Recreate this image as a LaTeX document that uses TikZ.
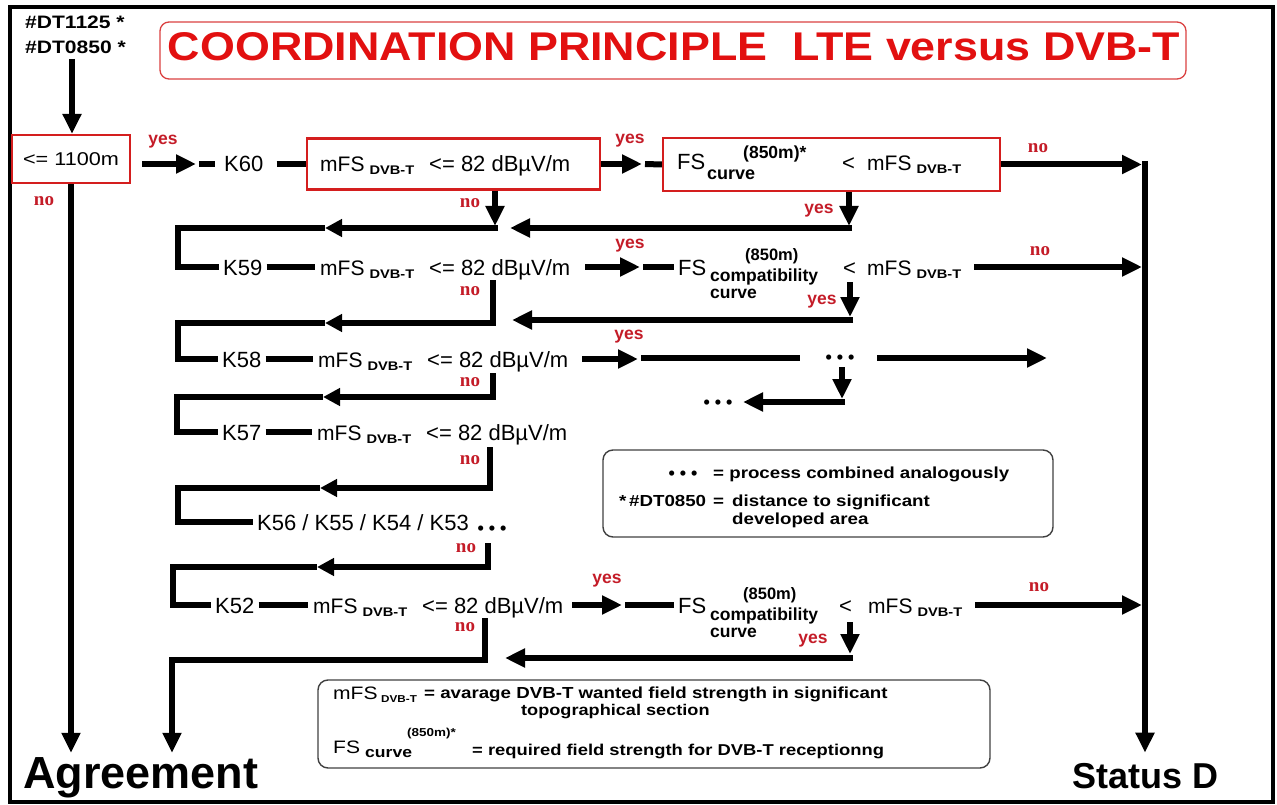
\documentclass[tikz,border=0pt]{standalone}
\usepackage{fontspec}
\usepackage{graphicx}
\setmainfont{Liberation Sans}
\newfontfamily\wfont{Liberation Sans}[FakeStretch=1.17]
\newfontfamily\serifbf{Liberation Serif}
\usetikzlibrary{arrows.meta}
\definecolor{tred}{RGB}{226,16,16}
\definecolor{bred}{RGB}{212,30,30}
\definecolor{lred}{RGB}{196,28,40}
\newcommand\fsz[1]{\fontsize{#1}{#1}\selectfont}
\newcommand\mfsDVB{{\fsz{21}mFS}\hspace{5pt}{\wfont\bfseries\fsz{12.5}\raisebox{-3pt}{DVB-T}}}
\newcommand\mfsRow{\mfsDVB\hspace{15pt}{\fsz{22}<= 82 dBµV/m}}
\tikzset{
 conn/.style={line width=6pt},
 arr/.style={line width=6pt,-{Triangle[length=20pt,width=18pt]}},
 marr/.style={line width=6pt,-{Triangle[length=17pt,width=17pt]}},
 redbox/.style={draw=bred,line width=2.2pt,inner sep=0pt},
 legbox/.style={draw=black!75,line width=1.4pt,rounded corners=10pt,inner sep=0pt},
 ktext/.style={font=\fsz{22},inner xsep=4pt,inner ysep=0pt,text height=16pt,text depth=0pt,anchor=west},
 rowtext/.style={inner xsep=5pt,inner ysep=0pt,text height=16pt,text depth=0pt,anchor=west},
 bt/.style={inner sep=0pt,anchor=base west},
 yeslab/.style={text=lred,font=\fsz{17.5}\bfseries,inner sep=0pt},
 nolab/.style={text=lred,font=\serifbf\fsz{19}\bfseries,inner sep=0pt},
 dots/.style={inner sep=0pt,anchor=base,font=\fsz{18}\bfseries},
}
\begin{document}
\begin{tikzpicture}[x=1pt,y=-1pt]
\useasboundingbox (0,0) rectangle (1277,805);
\draw[line width=4pt] (9.5,7) rectangle (1273,802);
% title
\node[draw=bred!85,line width=1.3pt,rounded corners=9pt,minimum width=1026pt,minimum height=57pt,inner sep=0pt] (titlebox) at (673,50.5) {};
\node[text=tred,inner sep=0pt,anchor=base] (title) at (674,61) {\resizebox{1012pt}{28pt}{\bfseries COORDINATION PRINCIPLE\ \ LTE versus DVB-T}};
% top left
\node[bt,font=\wfont\bfseries\fsz{18}] (dt1) at (25,29) {\#DT1125 *};
\node[bt,font=\wfont\bfseries\fsz{18}] (dt2) at (25,54) {\#DT0850 *};
\coordinate (a0) at (72,59);
\node[redbox,minimum width=118pt,minimum height=48pt,font=\wfont\fsz{18.5}] (b1) at (71,159) {<= 1100m};
\draw[arr] (a0) -- (a0 |- b1.north);
\node[yeslab] (y0) at (163,142) {yes};
\node[nolab] (n0) at (44,201) {no};
% end nodes
\node[bt,font=\bfseries\fsz{45}] (ag) at (23,788) {Agreement};
\node[bt,font=\bfseries\fsz{36}] (sd) at (1072,788) {Status D};
% row 1
\coordinate (r1a) at (142,164);
\coordinate (r1b) at (196,164);
\coordinate (r1c) at (199,164);
\draw[arr] (r1a) -- (r1b);
\node[ktext,inner xsep=9pt] (K60) at (215,164) {K60};
\draw[conn] (r1c) -- (K60.west);
\node[redbox,minimum width=293pt,minimum height=51pt] (m1) at (453.5,164) {};
\draw[conn,shorten <=4pt] (K60.east) -- (m1.west);
\node[rowtext,inner xsep=0pt] (m1t) at (320,164) {\mfsRow};
\coordinate (r1d) at (642,164);
\coordinate (r1e) at (645,164);
\draw[arr] (m1.east) -- (r1d);
\node[yeslab] (y1) at (630,141) {yes};
\node[redbox,minimum width=337pt,minimum height=53pt] (f1) at (831.5,164.5) {};
\draw[conn] (r1e) -- (f1.west);
\node[ktext,inner xsep=0pt] (fs1) at (677,162) {FS};
\node[bt,font=\bfseries\fsz{18}] (cv1) at (707,180) {curve};
\node[bt,font=\bfseries\fsz{17.5}] (sup1) at (743,159) {(850m)*};
\node[ktext,inner xsep=0pt] (lt1) at (842,163) {<};
\node[rowtext,inner xsep=0pt] (mf1) at (867,163) {\mfsDVB};
\coordinate (sdA) at (1142,164.5);
\draw[arr] (f1.east) -- (sdA);
\node[nolab] (nA) at (1038,148) {no};
\coordinate (sdTop) at (1145,161);
\draw[arr,shorten >=10pt] (sdTop) -- (sdTop |- sd.north);
% row 1 downward
\coordinate (n1b) at (495,226);
\draw[arr] (m1.south -| n1b) -- (n1b);
\node[nolab] (n1) at (470,203) {no};
\coordinate (u2R) at (498,228);
\coordinate (u2M) at (325,228);
\coordinate (u2L) at (178,228);
\draw[marr] (u2R) -- (u2M);
\coordinate (f1d) at (849,226);
\draw[arr] (f1.south -| f1d) -- (f1d);
\node[yeslab] (y1d) at (819,211) {yes};
\coordinate (u2Y) at (852,228);
\coordinate (u2T) at (510,228);
\draw[arr] (u2Y) -- (u2T);
% row 2
\node[ktext] (K59) at (219,267) {K59};
\draw[conn] (u2M) -- (u2L) -- (u2L |- K59.west) -- (K59.west);
\node[rowtext] (m59) at (315,267) {\mfsRow};
\draw[conn] (K59.east) -- (m59.west);
\coordinate (r2a) at (585,267);
\coordinate (r2b) at (640,267);
\coordinate (r2c) at (643,267);
\draw[arr] (r2a) -- (r2b);
\node[yeslab] (y2) at (630,246) {yes};
\node[ktext] (fs2) at (674,267) {FS};
\draw[conn] (r2c) -- (fs2.west);
\node[bt,font=\bfseries\fsz{16.5}] (sup2) at (745,260) {(850m)};
\node[bt,font=\bfseries\fsz{17.5}] (cp2) at (710,281) {compatibility};
\node[bt,font=\bfseries\fsz{17.5}] (cv2) at (710,298) {curve};
\node[ktext] (lt2) at (839,267) {<};
\node[rowtext,inner xsep=4pt] (mf2) at (863,267) {\mfsDVB};
\coordinate (sdB) at (1142,267);
\draw[arr,shorten <=9pt] (mf2.east) -- (sdB);
\node[nolab] (nB) at (1040,251) {no};
\coordinate (y2s) at (850,282);
\coordinate (y2t) at (850,317);
\draw[arr] (y2s) -- (y2t);
\node[yeslab] (y2d) at (822,302) {yes};
\coordinate (u3Y) at (853,320);
\coordinate (u3T) at (512,320);
\draw[arr] (u3Y) -- (u3T);
\coordinate (n2s) at (493,280);
\coordinate (n2c) at (493,323);
\coordinate (u3M) at (325,323);
\coordinate (u3L) at (178,323);
\draw[marr] (n2s) -- (n2c) -- (u3M);
\node[nolab] (n2) at (470,291) {no};
% row 3
\node[ktext] (K58) at (218,359) {K58};
\draw[conn] (u3M) -- (u3L) -- (u3L |- K58.west) -- (K58.west);
\node[rowtext] (m58) at (313,359) {\mfsRow};
\draw[conn] (K58.east) -- (m58.west);
\coordinate (r3a) at (582,359);
\coordinate (r3b) at (638,359);
\coordinate (r3c) at (641,358);
\coordinate (r3e) at (800,358);
\draw[arr] (r3a) -- (r3b);
\draw[conn] (r3c) -- (r3e);
\node[yeslab] (y3) at (629,337) {yes};
\node[dots] (d3) at (840,363) {• • •};
\coordinate (r3f) at (877,358);
\coordinate (r3g) at (1047,358);
\draw[arr] (r3f) -- (r3g);
\coordinate (d3s) at (842,367);
\coordinate (d3t) at (842,399);
\draw[arr] (d3s) -- (d3t);
\coordinate (d3c) at (845,402);
\coordinate (d3e) at (743,402);
\draw[arr] (d3c) -- (d3e);
\node[dots] (d3b) at (718,408) {• • •};
\coordinate (n3s) at (493,373);
\coordinate (n3c) at (493,397);
\coordinate (u4M) at (323,397);
\coordinate (u4L) at (177,397);
\draw[marr] (n3s) -- (n3c) -- (u4M);
\node[nolab] (n3) at (470,382) {no};
% row 4
\node[ktext] (K57) at (218,432) {K57};
\draw[conn] (u4M) -- (u4L) -- (u4L |- K57.west) -- (K57.west);
\node[rowtext] (m57) at (312,432) {\mfsRow};
\draw[conn] (K57.east) -- (m57.west);
\coordinate (n4s) at (490,447);
\coordinate (n4c) at (490,488);
\coordinate (u5M) at (320,488);
\coordinate (u5L) at (178,488);
\draw[marr] (n4s) -- (n4c) -- (u5M);
\node[nolab] (n4) at (470,460) {no};
% row 5
\node[ktext] (K56) at (253,522) {K56 / K55 / K54 / K53};
\draw[conn] (u5M) -- (u5L) -- (u5L |- K56.west) -- (K56.west);
\node[dots] (d5) at (492,534) {• • •};
\coordinate (n5s) at (488,543);
\coordinate (n5c) at (488,567);
\coordinate (u6M) at (317,567);
\coordinate (u6L) at (173,567);
\draw[marr] (n5s) -- (n5c) -- (u6M);
\node[nolab] (n5) at (466,548) {no};
% row 6
\node[ktext] (K52) at (211,605) {K52};
\draw[conn] (u6M) -- (u6L) -- (u6L |- K52.west) -- (K52.west);
\node[rowtext] (m52) at (308,605) {\mfsRow};
\draw[conn] (K52.east) -- (m52.west);
\coordinate (r6a) at (572,605);
\coordinate (r6b) at (622,605);
\coordinate (r6c) at (625,605);
\draw[arr] (r6a) -- (r6b);
\node[yeslab] (y6) at (607,581) {yes};
\node[ktext] (fs6) at (674,605) {FS};
\draw[conn] (r6c) -- (fs6.west);
\node[bt,font=\bfseries\fsz{16.5}] (sup6) at (743,599) {(850m)};
\node[bt,font=\bfseries\fsz{17.5}] (cp6) at (710,620) {compatibility};
\node[bt,font=\bfseries\fsz{17.5}] (cv6) at (710,637) {curve};
\node[ktext] (lt6) at (835,605) {<};
\node[rowtext,inner xsep=4pt] (mf6) at (864,605) {\mfsDVB};
\coordinate (sdC) at (1142,605);
\draw[arr,shorten <=9pt] (mf6.east) -- (sdC);
\node[nolab] (nC) at (1039,587) {no};
\coordinate (y6s) at (850,622);
\coordinate (y6t) at (850,654);
\draw[arr] (y6s) -- (y6t);
\node[yeslab] (y6d) at (813,641) {yes};
\coordinate (u7Y) at (853,658);
\coordinate (u7T) at (505,658);
\draw[arr] (u7Y) -- (u7T);
\coordinate (n6s) at (485,618);
\coordinate (n6c) at (485,660);
\coordinate (n6d) at (172,660);
\draw[arr,shorten >=4pt] (n6s) -- (n6c) -- (n6d) -- (n6d |- ag.north);
\node[nolab] (n6) at (465,627) {no};
\draw[arr,shorten >=4pt] (b1.south) -- (b1.south |- ag.north);
% legend 1
\node[legbox,minimum width=450pt,minimum height=87pt] (lg1) at (828,493.5) {};
\node[dots] (ld) at (683,479) {• • •};
\node[bt,font=\wfont\bfseries\fsz{16}] (l1a) at (713,478) {= process combined analogously};
\node[bt,font=\wfont\bfseries\fsz{16}] (l1b) at (619,506) {*\,\#DT0850};
\node[bt,font=\wfont\bfseries\fsz{16}] (l1c) at (713,506) {=};
\node[bt,font=\wfont\bfseries\fsz{16}] (l1d) at (732,506) {distance to significant};
\node[bt,font=\wfont\bfseries\fsz{16}] (l1e) at (732,524) {developed area};
% legend 2
\node[legbox,minimum width=672pt,minimum height=88pt] (lg2) at (654,724) {};
\node[bt,font=\wfont\fsz{18}] (l2a) at (333,699) {mFS};
\node[bt,font=\wfont\bfseries\fsz{10}] (l2b) at (381,702) {DVB-T};
\node[bt,font=\wfont\bfseries\fsz{16}] (l2c) at (424,698) {= avarage DVB-T wanted field strength in significant};
\node[bt,font=\wfont\bfseries\fsz{15.5}] (l2d) at (521,715) {topographical section};
\node[bt,font=\wfont\bfseries\fsz{11.5}] (l2e) at (407,736) {(850m)*};
\node[bt,font=\wfont\fsz{18}] (l2f) at (333,753) {FS};
\node[bt,font=\wfont\bfseries\fsz{15}] (l2g) at (365,757) {curve};
\node[bt,font=\wfont\bfseries\fsz{15.7}] (l2h) at (472,755) {= required field strength for DVB-T receptionng};
\end{tikzpicture}
\end{document}
